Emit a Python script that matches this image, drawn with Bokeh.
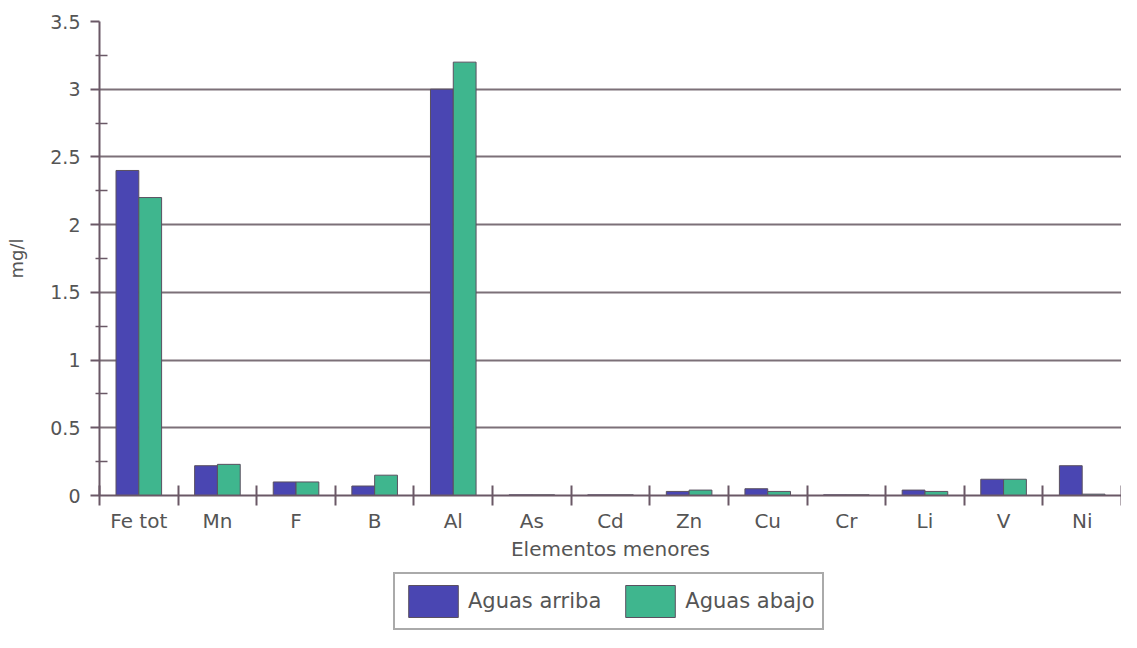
from bokeh.plotting import figure
from bokeh.layouts import column
from bokeh.models import (ColumnDataSource, FactorRange, Range1d, LinearAxis,
                          FixedTicker, Legend, Grid)
from bokeh.transform import dodge
from bokeh.embed import file_html
from bokeh.resources import INLINE

# ---- data ----
elements = ["Fe tot", "Mn", "F", "B", "Al", "As", "Cd", "Zn", "Cu", "Cr", "Li", "V", "Ni"]
aguas_arriba = [2.40, 0.22, 0.10, 0.07, 3.00, 0.005, 0.005, 0.03, 0.05, 0.005, 0.04, 0.12, 0.22]
aguas_abajo = [2.20, 0.23, 0.10, 0.15, 3.20, 0.005, 0.005, 0.04, 0.03, 0.005, 0.03, 0.12, 0.01]
y_ticks = [0, 0.5, 1, 1.5, 2, 2.5, 3, 3.5]
y_tick_labels = ["0", "0.5", "1", "1.5", "2", "2.5", "3", "3.5"]
series_names = ["Aguas arriba", "Aguas abajo"]

BLUE = "#4a46b2"
GREEN = "#3fb68e"
AXIS = "#6a5866"
GRID = "#7c7078"
OUTLINE = "#5a5060"
TEXT = "#555555"
FONT = "DejaVu Sans"

src = ColumnDataSource(dict(el=elements, arriba=aguas_arriba, abajo=aguas_abajo))

p = figure(width=1121, height=572, x_range=FactorRange(*elements),
           y_range=Range1d(0, 3.5), x_axis_type=None, y_axis_type=None,
           output_backend="svg", toolbar_location=None,
           min_border_left=99, min_border_right=0, min_border_top=21,
           min_border_bottom=77)
p.outline_line_color = None
p.background_fill_color = "white"
p.border_fill_color = "white"

p.add_layout(Grid(dimension=1, ticker=FixedTicker(ticks=y_ticks),
                  grid_line_color=GRID, grid_line_width=2))

bw = 0.29
r1 = p.vbar(x=dodge("el", -bw / 2, range=p.x_range), top="arriba", width=bw,
            source=src, fill_color=BLUE, line_color=OUTLINE, line_width=1)
r2 = p.vbar(x=dodge("el", bw / 2, range=p.x_range), top="abajo", width=bw,
            source=src, fill_color=GREEN, line_color=OUTLINE, line_width=1)

# x axis: labels at category centres, ticks at category boundaries
n = len(elements)
centres = [i + 0.5 for i in range(n)]
bounds = list(range(n + 1))
xaxis = LinearAxis(ticker=FixedTicker(ticks=centres, minor_ticks=bounds),
                   major_label_overrides={c: e for c, e in zip(centres, elements)})
xaxis.major_tick_in = 0
xaxis.major_tick_out = 0
xaxis.minor_tick_in = 10
xaxis.minor_tick_out = 10
xaxis.minor_tick_line_color = AXIS
xaxis.minor_tick_line_width = 2
xaxis.axis_line_color = AXIS
xaxis.axis_line_width = 2
xaxis.major_label_standoff = 3
xaxis.major_label_text_font = FONT
xaxis.major_label_text_font_size = "20px"
xaxis.major_label_text_color = TEXT
xaxis.axis_label = "Elementos menores"
xaxis.axis_label_text_font = FONT
xaxis.axis_label_text_font_size = "20px"
xaxis.axis_label_text_font_style = "normal"
xaxis.axis_label_text_color = TEXT
xaxis.axis_label_standoff = 1
p.add_layout(xaxis, "below")

# y axis
y_minor = [(a + b) / 2 for a, b in zip(y_ticks[:-1], y_ticks[1:])]
yaxis = LinearAxis(ticker=FixedTicker(ticks=y_ticks, minor_ticks=y_minor),
                   major_label_overrides={t: l for t, l in zip(y_ticks, y_tick_labels)})
yaxis.major_tick_in = 0
yaxis.major_tick_out = 9
yaxis.major_tick_line_color = AXIS
yaxis.major_tick_line_width = 2
yaxis.minor_tick_in = 8
yaxis.minor_tick_out = 4
yaxis.minor_tick_line_color = AXIS
yaxis.minor_tick_line_width = 1.5
yaxis.axis_line_color = AXIS
yaxis.axis_line_width = 2
yaxis.major_label_standoff = 10
yaxis.major_label_text_font = FONT
yaxis.major_label_text_font_size = "19px"
yaxis.major_label_text_color = TEXT
yaxis.axis_label = "mg/l"
yaxis.axis_label_text_font = FONT
yaxis.axis_label_text_font_size = "18px"
yaxis.axis_label_text_font_style = "normal"
yaxis.axis_label_text_color = TEXT
yaxis.axis_label_standoff = 20
p.add_layout(yaxis, "left")

# legend strip below the chart: same series, y window above the data so only the keys show
pl = figure(width=1121, height=60, x_range=FactorRange(*elements), y_range=Range1d(10, 11),
            x_axis_type=None, y_axis_type=None, output_backend="svg",
            toolbar_location=None, min_border=0)
pl.outline_line_color = None
pl.background_fill_color = "white"
pl.border_fill_color = "white"
l1 = pl.vbar(x=dodge("el", -bw / 2, range=pl.x_range), top="arriba", width=bw,
             source=src, fill_color=BLUE, line_color=OUTLINE, line_width=1)
l2 = pl.vbar(x=dodge("el", bw / 2, range=pl.x_range), top="abajo", width=bw,
             source=src, fill_color=GREEN, line_color=OUTLINE, line_width=1)

legend = Legend(items=[(series_names[0], [l1]), (series_names[1], [l2])],
                orientation="horizontal", location=(294, 2))
legend.glyph_width = 62
legend.glyph_height = 40
legend.label_text_font = FONT
legend.label_text_font_size = "21px"
legend.label_text_color = TEXT
legend.label_standoff = 4
legend.spacing = 18
legend.padding = 7
legend.margin = 0
legend.border_line_color = "#555555"
legend.border_line_width = 2
legend.background_fill_color = "white"
legend.background_fill_alpha = 1
pl.add_layout(legend, "center")

layout = column(p, pl, spacing=0)
open("out.html", "w").write(file_html(layout, INLINE))
